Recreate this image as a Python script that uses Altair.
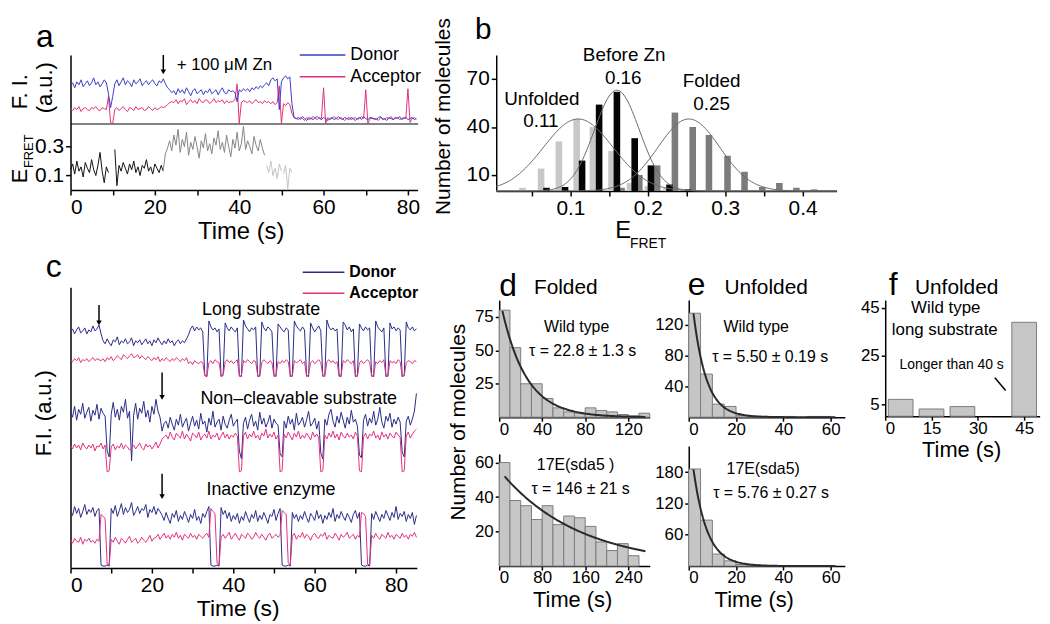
import altair as alt
import numpy as np
import pandas as pd

FONT = "Liberation Sans"
BLUE_A = "#3c3cc4"
NAVY = "#2b2a86"
PINK = "#e3307d"
BAR_FILL = "#c6c6c6"
BAR_EDGE = "#7d7d7d"
STEP = 0.5  # seconds between trace samples

# ---------------- panel a : single-molecule trace ----------------
A_DONOR = [38,41,36,42,39,44,37,40,43,38,41,46,39,42,37,40,44,41,
           30,16,27,
           40,44,38,42,46,39,43,41,37,44,40,42,45,38,41,43,39,42,44,40,38,43,41,45,
           40,36,34,31,
           33,29,35,31,34,30,36,32,28,33,35,30,32,34,29,33,31,35,30,32,34,29,33,36,31,30,34,32,
           33,31,22,34,32,35,
           33,35,32,36,34,37,35,38,36,39,41,38,
           44,46,43,45,
           14,42,
           46,48,45,47,
           20,6,
           5,6,4,7,5,3,6,5,4,6,7,5,4,6,5,3,5,6,4,5,7,5,4,6,5,4,6,5,3,5,
           6,4,7,5,4,6,5,5,4,6,7,4,5,3,6,5,4,6,5,7,4,5,6,4,5,6,4,5]
A_ACCEPTOR = [15,13,16,14,17,12,15,16,14,13,16,15,17,14,13,16,15,14,
              27,1,0,
              14,16,13,15,17,14,12,16,15,13,17,14,15,16,13,14,17,15,13,16,14,15,17,16,
              17,19,21,22,
              21,24,20,23,22,25,19,22,24,21,23,20,25,22,21,24,23,20,22,25,21,23,22,24,20,23,21,22,
              22,24,40,0,21,23,
              22,21,23,20,22,24,21,22,20,23,21,22,
              20,22,19,21,
              38,0,
              20,18,21,19,
              10,6,
              5,4,6,5,3,6,4,5,7,5,4,6,5,36,0,
              6,4,5,7,5,4,6,5,3,5,6,4,5,6,4,5,7,5,34,0,
              5,6,4,5,3,6,5,4,6,5,7,4,5,6,4,5,6,5,35,1,5,6,4]
A_ZN_TIME = 22.0
A_EFRET_START = [0.0, 10.5, 22.0, 46.5, 50.5]
A_EFRET_STAGE = ["before", "before", "zn", "late", "late"]
A_EFRET = [
    [0.14,0.18,0.11,0.2,0.13,0.16,0.09,0.19,0.15,0.12,0.21,0.14,0.1,0.17,0.26,0.13,0.05,0.16,0.12],
    [0.28,0.03,0.17,0.13,0.19,0.15,0.11,0.18,0.14,0.2,0.12,0.16,0.1,0.17,0.15,0.21,0.13,0.16,0.11,0.18,0.15,0.12,0.17,0.13],
    [0.14,0.25,0.29,0.34,0.27,0.38,0.31,0.42,0.26,0.35,0.3,0.4,0.24,0.33,0.28,0.37,0.3,0.22,0.34,0.29,0.39,0.27,0.32,0.25,
     0.36,0.31,0.41,0.28,0.33,0.26,0.38,0.3,0.23,0.35,0.29,0.4,0.27,0.32,0.44,0.28,0.34,0.3,0.25,0.37,0.31,0.27,0.35,0.29,0.24],
    [0.17,0.12,0.2,0.1,0.15,0.08,0.18,0.13],
    [0.11,0.17,0.01,0.15,0.12],
]

# ---------------- panel b : E_FRET histograms ----------------
B_BAR_WIDTH = 0.0085
B_UNF_X = [0.038, 0.062, 0.085, 0.108, 0.129, 0.153, 0.177, 0.2, 0.224]
B_UNF_N = [2, 14, 31, 45, 40, 25, 5, 3, 2]
B_BEF_X = [0.069, 0.093, 0.115, 0.137, 0.16, 0.183, 0.204, 0.228, 0.252]
B_BEF_N = [2, 2.5, 19, 54, 62, 33, 16, 4, 1]
B_FOL_X = [0.166, 0.189, 0.212, 0.235, 0.258, 0.279, 0.303, 0.325, 0.348, 0.37, 0.392, 0.415]
B_FOL_N = [2, 10, 16, 49, 40, 35, 22, 12, 2.5, 5, 2, 1]
B_FIT_CENTER = [0.11, 0.16, 0.253]
B_FIT_PEAK = [45, 63, 45]
B_FIT_SIGMA = [0.045, 0.029, 0.04]

# ---------------- panel c : three traces ----------------
C1_DONOR = [238,241,236,240,243,237,239,242,236,240,238,244,239,241,
            245,236,
            229,226,231,227,224,230,228,233,225,229,227,231,226,228,232,224,229,227,230,225,228,
            231,226,229,224,230,227,232,228,225,229,226,231,227,229,224,228,230,226,229,227,231,
            235,241,244,239,243,240,242,238,
            194,193,249,243,240,242,238,241,
            193,195,247,242,239,243,240,238,242,
            194,193,250,244,241,238,242,240,243,
            193,194,248,242,239,243,241,238,
            195,193,246,243,240,238,242,240,
            193,194,249,244,241,239,243,240,
            194,193,247,242,238,241,244,239,
            193,195,250,243,240,242,239,241,
            194,193,248,245,240,243,238,241,
            193,194,246,242,239,243,240,242,
            194,193,249,243,240,238,242,
            193,194,247,241,243,239,242,240,
            193,194,248,242,240,243,239,241]
C1_ACCEPTOR = [210,208,211,209,212,207,210,209,211,208,210,212,209,211,
               210,209,
               211,208,212,210,213,209,211,214,212,210,215,213,211,214,216,212,213,215,211,214,212,
               210,213,211,209,212,210,213,208,211,209,212,210,208,211,209,212,210,208,211,209,212,
               206,208,205,209,207,206,208,207,
               194,193,207,209,206,210,208,207,
               193,194,208,210,207,209,206,208,210,
               193,194,209,207,210,208,206,209,208,
               194,193,207,210,208,206,209,207,
               193,194,208,206,209,207,210,208,
               194,193,209,207,208,210,206,208,
               193,195,207,209,206,208,210,207,
               194,193,208,210,207,209,206,208,
               193,194,209,207,210,208,206,209,
               194,193,207,209,206,208,210,207,
               193,194,208,206,209,207,210,
               194,193,209,207,208,206,210,208,
               193,194,207,209,208,206,209,208]
C2_DONOR = [158,152,163,149,160,155,166,151,157,162,148,159,154,165,150,161,156,153,
            118,112,
            155,167,152,160,149,163,157,170,151,158,
            108,
            154,166,150,161,156,168,152,159,147,163,155,170,158,152,
            138,146,
            148,141,152,145,139,150,144,155,142,147,151,138,146,153,143,149,140,156,
            145,148,137,151,144,158,142,147,150,139,153,145,141,149,155,143,147,150,
            118,110,
            146,152,140,149,155,143,148,139,157,145,151,142,147,154,141,150,146,144,
            115,112,
            148,141,153,145,150,139,156,144,147,152,142,149,158,143,146,151,140,148,
            116,110,
            150,144,155,160,148,142,153,146,157,149,141,152,145,159,147,150,143,
            114,111,
            149,155,143,151,146,158,144,150,162,147,141,153,148,156,142,150,145,152,147,
            117,112,
            148,153,144,150,158,176]
C2_ACCEPTOR = [123,120,125,121,124,119,126,122,120,124,121,125,118,123,122,126,120,124,
               97,98,
               122,125,119,123,121,126,120,124,122,119,
               121,
               124,120,123,126,121,119,125,122,124,120,123,127,121,125,
               130,132,
               134,130,137,132,129,136,133,131,138,130,135,132,128,136,134,131,137,129,
               133,135,131,138,130,134,132,136,129,133,137,131,135,130,134,132,136,133,
               97,98,
               133,137,130,135,132,138,131,134,129,136,133,140,131,135,132,137,130,134,
               97,98,
               135,131,137,133,129,136,132,138,130,134,131,136,133,129,137,132,135,131,
               97,98,
               134,130,136,132,138,131,135,129,137,133,131,136,132,134,130,137,133,
               98,97,
               132,136,130,135,133,138,131,134,129,137,132,135,130,136,133,131,137,134,132,
               97,98,
               133,137,131,135,138,140]
C3_DONOR = [58,53,62,55,60,51,57,64,54,59,56,61,52,58,60,
            3,2,2,3,2,
            60,55,63,52,58,65,54,61,56,59,66,53,57,62,55,60,58,64,51,59,56,62,54,60,57,
            53,48,56,50,45,55,51,58,47,53,49,57,52,46,54,50,59,48,52,45,55,51,57,62,
            3,2,2,3,2,
            61,54,58,50,56,47,53,49,55,45,52,48,57,51,46,54,50,58,47,53,49,56,51,45,54,52,59,48,55,60,
            3,2,2,3,2,
            56,50,54,47,53,49,57,51,46,55,52,48,58,50,54,45,53,49,56,51,60,47,54,50,57,52,48,55,51,46,54,58,50,56,
            3,2,2,3,2,
            55,49,57,52,47,54,50,58,53,48,56,51,62,49,55,52,57,47,54,50,56,44,53]
C3_ACCEPTOR = [28,25,30,27,26,31,24,29,27,30,26,28,25,29,27,
               54,52,50,4,3,
               29,26,31,27,24,30,28,25,29,32,26,28,30,25,27,31,28,26,29,33,27,30,31,34,29,
               32,35,30,33,29,34,31,36,30,33,28,34,32,30,35,31,33,29,34,32,30,33,35,31,
               60,57,55,5,3,
               31,34,30,33,36,29,32,35,31,28,34,32,30,35,33,29,31,36,32,30,34,31,28,33,35,30,32,34,31,33,
               58,56,54,5,3,
               32,35,29,33,31,36,30,34,32,28,33,35,31,30,34,32,36,29,33,31,30,35,32,28,34,31,33,36,30,32,34,29,33,31,
               56,55,52,4,3,
               33,30,35,31,29,34,32,30,36,31,33,29,34,32,30,35,31,33,29,34,32,36,31]
C_ARROW_T = [7.0, 22.5, 22.5]
C_ARROW_TOP = [265, 197, 95]
C_ARROW_BOTTOM = [247, 172, 72]

# ---------------- panels d, e, f : dwell-time histograms ----------------
D_TOP_BIN = 10
D_TOP_N = [80, 52, 25, 25, 14, 7, 4, 3, 7, 5, 4, 2, 1, 3]
D_BOT_BIN = 20
D_BOT_N = [60, 38, 35, 27, 35, 24, 29, 28, 23, 14, 9, 13, 6]
E_BIN = 5
E_TOP_N = [135, 56, 17, 14, 2, 1, 1, 0, 1, 0, 1, 1, 0]
E_BOT_N = [186, 88, 23, 10, 3, 2, 1, 1, 0, 1, 0, 0, 0]
F_LEFT = [1, 11, 21, 41]
F_RIGHT = [9, 19, 29, 49]
F_N = [7, 3, 4, 39]
# single-exponential fits: amplitude, tau (s), start, end
D_TOP_FIT = (90.5, 22.8, 3, 136)
D_BOT_FIT = (55.7, 146.0, 10, 272)
E_TOP_FIT = (194.0, 5.50, 2, 62)
E_BOT_FIT = (262.0, 5.76, 2, 62)

# ---------------- canvas helpers (page pixel coordinates) ----------------
W, H = 1042, 616
OX, OY = 8, 8
ONE = pd.DataFrame({"k": [0]})


def axis(**kw):
    base = dict(title=None, grid=False, domainColor="black", domainWidth=1.5,
                tickColor="black", tickWidth=1.5, tickSize=5, labelColor="black",
                labelFont=FONT, labelFontSize=21, labelPadding=2)
    base.update(kw)
    return alt.Axis(**base)


def xaxis(y_page, **kw):
    return axis(orient="bottom", offset=(y_page - OY) - H, **kw)


def yaxis(x_page, **kw):
    return axis(orient="left", offset=-(x_page - OX), **kw)


def sc(dom, rng_page, o):
    return alt.Scale(domain=dom, range=[r - o for r in rng_page], nice=False, zero=False)


def X(field, dom, rng, ax=None):
    return alt.X(field, scale=sc(dom, rng, OX), axis=ax)


def Y(field, dom, rng, ax=None):
    return alt.Y(field, scale=sc(dom, rng, OY), axis=ax)


def txt(s, x, y, size=18, angle=0, align="center", baseline="middle", weight="normal"):
    return alt.Chart(ONE).mark_text(text=s, font=FONT, fontSize=size, angle=angle, align=align,
                                    baseline=baseline, fontWeight=weight, color="black").encode(
        x=alt.value(x - OX), y=alt.value(y - OY))


def hline(x1, x2, y, color, w=1.5):
    return alt.Chart(ONE).mark_rule(color=color, strokeWidth=w).encode(
        x=alt.value(x1 - OX), x2=alt.value(x2 - OX), y=alt.value(y - OY))


def series(values, start=0.0):
    return pd.DataFrame({"t": [start + i * STEP for i in range(len(values))], "v": values})


layers = []

# ================= panel a =================
A_XD, A_XR = [0, 82.3], [71, 420.8]
A1_YD, A1_YR = [0, 69], [122, 53]
A2_YD, A2_YR = [0, 0.46], [189, 122]
layers += [
    alt.Chart(series(A_ACCEPTOR)).mark_line(color=PINK, strokeWidth=1).encode(
        x=X("t:Q", A_XD, A_XR, xaxis(122, ticks=False, labels=False, domainColor="#5a5a5a")),
        y=Y("v:Q", A1_YD, A1_YR, yaxis(71, ticks=False, labels=False))),
    alt.Chart(series(A_DONOR)).mark_line(color=BLUE_A, strokeWidth=1).encode(
        x=X("t:Q", A_XD, A_XR), y=Y("v:Q", A1_YD, A1_YR)),
]
arrow_a = pd.DataFrame({"t": [A_ZN_TIME], "v": [69], "v2": [52]})
layers += [
    alt.Chart(arrow_a).mark_rule(color="black", strokeWidth=1.5).encode(
        x=X("t:Q", A_XD, A_XR), y=Y("v:Q", A1_YD, A1_YR), y2="v2:Q"),
    alt.Chart(arrow_a).mark_point(shape="triangle-down", filled=True, size=30, color="black", opacity=1).encode(
        x=X("t:Q", A_XD, A_XR), y=Y("v2:Q", A1_YD, A1_YR)),
]
rows = []
for k, (st, stage, vals) in enumerate(zip(A_EFRET_START, A_EFRET_STAGE, A_EFRET)):
    for i, v in enumerate(vals):
        rows.append({"t": st + i * STEP, "e": v, "stage": stage, "seg": k})
layers.append(
    alt.Chart(pd.DataFrame(rows)).mark_line(strokeWidth=1).encode(
        x=X("t:Q", A_XD, A_XR, xaxis(189, values=list(range(0, 81, 10)),
                                     labelExpr="datum.value % 20 === 0 ? datum.label : ''")),
        y=Y("e:Q", A2_YD, A2_YR, yaxis(71, values=[0.1, 0.3], format=".1f")),
        color=alt.Color("stage:N", scale=alt.Scale(domain=["before", "zn", "late"],
                                                   range=["#111111", "#858585", "#c4c4c4"]), legend=None),
        detail="seg:N"))
layers += [
    txt("a", 45, 45, size=32, baseline="alphabetic"),
    txt("F. I.", 20, 90, size=22, angle=270),
    txt("(a.u.)", 45, 86, size=22, angle=270),
    txt("+ 100 \u03bcM Zn", 178, 63, size=17, align="left"),
    hline(302, 348, 53, BLUE_A), hline(302, 348, 75, PINK),
    txt("Donor", 353, 53, size=18, align="left"),
    txt("Acceptor", 353, 75, size=18, align="left"),
    txt("E", 20, 175, size=22, angle=270),
    txt("FRET", 29, 150, size=13, angle=270),
    txt("Time (s)", 243, 231, size=24),
]

# ================= panel c =================
C_XD, C_XR = [0, 85.1], [71, 420]
C_YD, C_YR = [0, 283], [570, 287]


def traces(lst):
    parts = []
    for k, vals in enumerate(lst):
        df = series(vals)
        df["trace"] = k
        parts.append(df)
    return pd.concat(parts, ignore_index=True)


arrows_c = pd.DataFrame({"t": C_ARROW_T, "top": C_ARROW_TOP, "bot": C_ARROW_BOTTOM})
layers += [
    alt.Chart(traces([C1_DONOR, C2_DONOR, C3_DONOR])).mark_line(color=NAVY, strokeWidth=1).encode(
        x=X("t:Q", C_XD, C_XR, xaxis(570, values=list(range(0, 81, 10)),
                                     labelExpr="datum.value % 20 === 0 ? datum.label : ''")),
        y=Y("v:Q", C_YD, C_YR, yaxis(71, ticks=False, labels=False)), detail="trace:N"),
    alt.Chart(traces([C1_ACCEPTOR, C2_ACCEPTOR, C3_ACCEPTOR])).mark_line(color=PINK, strokeWidth=1).encode(
        x=X("t:Q", C_XD, C_XR), y=Y("v:Q", C_YD, C_YR), detail="trace:N"),
    alt.Chart(arrows_c).mark_rule(color="black", strokeWidth=1.5).encode(
        x=X("t:Q", C_XD, C_XR), y=Y("top:Q", C_YD, C_YR), y2="bot:Q"),
    alt.Chart(arrows_c).mark_point(shape="triangle-down", filled=True, size=30, color="black", opacity=1).encode(
        x=X("t:Q", C_XD, C_XR), y=Y("bot:Q", C_YD, C_YR)),
    txt("c", 54, 277, size=32, baseline="alphabetic"),
    txt("F.I. (a.u.)", 44, 414, size=22, angle=270),
    txt("Time (s)", 240, 611, size=23),
    txt("Long substrate", 263, 310, size=18),
    txt("Non\u2013cleavable substrate", 301, 400, size=18),
    txt("Inactive enzyme", 273, 491, size=18),
    hline(305, 347, 272, NAVY), hline(305, 347, 293, PINK),
    txt("Donor", 352, 272, size=16, align="left", weight="bold"),
    txt("Acceptor", 352, 293, size=16, align="left", weight="bold"),
]

# ================= panel b =================
B_XD, B_XR = [0.004, 0.444], [500, 843]
B_YD, B_YR = [0, 85], [190, 53]
b_xaxis = xaxis(190, values=[0.05, 0.1, 0.15, 0.2, 0.25, 0.3, 0.35, 0.4],
                labelExpr="round(datum.value * 100) % 10 === 0 ? format(datum.value, '.1f') : ''")
b_yaxis = yaxis(500, values=[10, 40, 70])


def bars_b(xs, ns):
    return pd.DataFrame({"x0": [x - B_BAR_WIDTH / 2 for x in xs], "x1": [x + B_BAR_WIDTH / 2 for x in xs], "n": ns})


for k, (xs, ns, col) in enumerate([(B_UNF_X, B_UNF_N, "#c8c8c8"), (B_FOL_X, B_FOL_N, "#7c7c7c"),
                                    (B_BEF_X, B_BEF_N, "#050505")]):
    layers.append(alt.Chart(bars_b(xs, ns)).mark_bar(color=col).encode(
        x=X("x0:Q", B_XD, B_XR, b_xaxis if k == 0 else None), x2="x1:Q",
        y=Y("n:Q", B_YD, B_YR, b_yaxis if k == 0 else None), y2=alt.datum(0)))
xgrid = np.arange(0.004, 0.4441, 0.002)
fit_rows = []
for k, (mu, a, s) in enumerate(zip(B_FIT_CENTER, B_FIT_PEAK, B_FIT_SIGMA)):
    for xv in xgrid:
        fit_rows.append({"x": xv, "y": a * np.exp(-(xv - mu) ** 2 / (2 * s * s)), "fit": k})
layers += [
    alt.Chart(pd.DataFrame(fit_rows)).mark_line(color="#6a6a6a", strokeWidth=1).encode(
        x=X("x:Q", B_XD, B_XR), y=Y("y:Q", B_YD, B_YR), detail="fit:N"),
    txt("b", 487, 37, size=30, baseline="alphabetic"),
    txt("Number of molecules", 447, 115, size=21, angle=270),
    txt("E", 628, 230, size=24),
    txt("FRET", 653, 243, size=14),
    txt("Unfolded", 546, 97, size=19), txt("0.11", 545, 120, size=19),
    txt("Before Zn", 629, 53, size=19), txt("0.16", 628, 76, size=19),
    txt("Folded", 717, 79, size=19), txt("0.25", 717, 102, size=19),
]


# ================= panels d, e, f =================
def hist_df(ns, width):
    return pd.DataFrame({"x0": [i * width for i in range(len(ns))],
                         "x1": [(i + 1) * width for i in range(len(ns))], "n": ns}).query("n > 0")


def fit_df(p):
    a, tau, t0, t1 = p
    tt = np.linspace(t0, t1, 120)
    return pd.DataFrame({"x": tt, "y": a * np.exp(-tt / tau)})


def dwell(hist, fit, xd, xr, yd, yr, xvals, yvals):
    xa = xaxis(yr[0], values=xvals, labelFontSize=17, tickSize=4, labelPadding=0)
    ya = yaxis(xr[0], values=yvals, labelFontSize=17, tickSize=4, labelPadding=2)
    out = [alt.Chart(hist).mark_bar(fill=BAR_FILL, stroke=BAR_EDGE, strokeWidth=1).encode(
        x=X("x0:Q", xd, xr, xa), x2="x1:Q", y=Y("n:Q", yd, yr, ya), y2=alt.datum(0))]
    if fit is not None:
        out.append(alt.Chart(fit).mark_line(color="#2a2a2a", strokeWidth=2).encode(
            x=X("x:Q", xd, xr), y=Y("y:Q", yd, yr)))
    return out


D_XR = [503, 654.7]
E_XR = [694, 851.3]
F_XR = [892, 1047.6]
layers += dwell(hist_df(D_TOP_N, D_TOP_BIN), fit_df(D_TOP_FIT), [0, 140], D_XR, [0, 87.5], [418, 300],
                [0, 40, 80, 120], [25, 50, 75])
layers += dwell(hist_df(D_BOT_N, D_BOT_BIN), fit_df(D_BOT_FIT), [0, 280], D_XR, [0, 65], [568, 455],
                [0, 80, 160, 240], [20, 40, 60])
layers += dwell(hist_df(E_TOP_N, E_BIN), fit_df(E_TOP_FIT), [0, 66], E_XR, [0, 152], [418, 300],
                [0, 20, 40, 60], [40, 80, 120])
layers += dwell(hist_df(E_BOT_N, E_BIN), fit_df(E_BOT_FIT), [0, 66], E_XR, [0, 230], [568, 447],
                [0, 20, 40, 60], [60, 120, 180])
layers += dwell(pd.DataFrame({"x0": F_LEFT, "x1": F_RIGHT, "n": F_N}), None, [0, 50], F_XR, [0, 48.2],
                [417, 300], [0, 15, 30, 45], [5, 25, 45])
f_pointer = pd.DataFrame({"x0": [35.5], "x1": [39.0], "n": [16.0], "n2": [10.7]})
layers += [
    alt.Chart(f_pointer).mark_rule(color="black", strokeWidth=1.5).encode(
        x=X("x0:Q", [0, 50], F_XR), x2="x1:Q", y=Y("n:Q", [0, 48.2], [417, 300]), y2="n2:Q"),
    txt("d", 512, 296, size=32, baseline="alphabetic"),
    txt("Folded", 538, 294, size=21, align="left", baseline="alphabetic"),
    txt("Number of molecules", 463, 423, size=21, angle=270),
    txt("Wild type", 581, 327, size=16),
    txt("\u03c4 = 22.8 \u00b1 1.3 s", 587, 351, size=16),
    txt("17E(sda5 )", 580, 466, size=16),
    txt("\u03c4 = 146 \u00b1 21 s", 585, 490, size=16),
    txt("Time (s)", 577, 602, size=22),
    txt("e", 702, 295, size=32, baseline="alphabetic"),
    txt("Unfolded", 730, 294, size=21, align="left", baseline="alphabetic"),
    txt("Wild type", 762, 327, size=16),
    txt("\u03c4 = 5.50 \u00b1 0.19 s", 776, 357, size=16),
    txt("17E(sda5)", 769, 470, size=16),
    txt("\u03c4 = 5.76 \u00b1 0.27 s", 777, 494, size=16),
    txt("Time (s)", 760, 602, size=22),
    txt("f", 900, 295, size=32, baseline="alphabetic"),
    txt("Unfolded", 922, 294, size=21, align="left", baseline="alphabetic"),
    txt("Wild type", 953, 308, size=17),
    txt("long substrate", 952, 330, size=17),
    txt("Longer than 40 s", 959, 365, size=14),
    txt("Time (s)", 969, 451, size=22),
]

chart = alt.layer(*layers).resolve_scale(x="independent", y="independent", color="independent").properties(
    width=W, height=H, padding=0, autosize=alt.AutoSizeParams(type="none")
).configure_view(stroke=None).configure_text(font=FONT)

chart.save("out.html", embed_options={"renderer": "svg", "actions": False})
